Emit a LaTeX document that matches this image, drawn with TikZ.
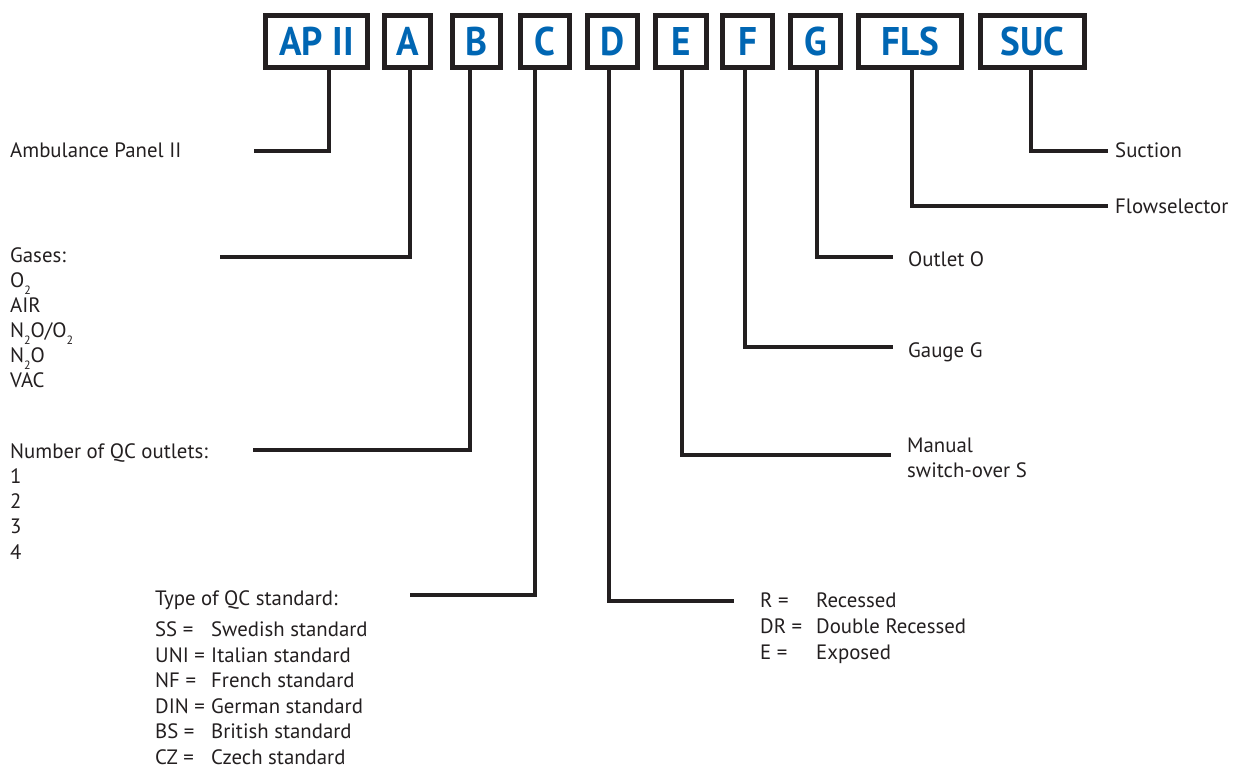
\documentclass[tikz,border=0pt]{standalone}
\usepackage{fontspec}
\setmainfont{PT Sans}
\newfontfamily\boxfont{PT Sans}[FakeStretch=0.93]
\definecolor{ink}{RGB}{35,31,32}
\definecolor{codeblue}{RGB}{0,102,179}
\newcommand{\sub}[1]{\raisebox{-0.7ex}{\fontsize{12}{12}\selectfont #1}}
\begin{document}
\begin{tikzpicture}[x=1pt,y=-1pt,
  codebox/.style={draw=ink, line width=5pt, minimum height=52pt, inner sep=0pt,
    font=\boxfont\bfseries\fontsize{40}{40}\selectfont, text=codeblue},
  conn/.style={draw=ink, line width=4pt},
  txt/.style={anchor=base west, inner sep=0pt, font=\fontsize{20.8}{25}\selectfont, text=ink}]
\useasboundingbox (0,0) rectangle (1242,769);
% code boxes
\node[codebox, minimum width=102pt] (apii) at (316.5,41.5) {AP II};
\node[codebox, minimum width=46pt]  (a)    at (407.5,41.5) {A};
\node[codebox, minimum width=48pt]  (b)    at (476.5,41.5) {B};
\node[codebox, minimum width=49pt]  (c)    at (545,41.5)   {C};
\node[codebox, minimum width=50pt]  (d)    at (612.5,41.5) {D};
\node[codebox, minimum width=51pt]  (e)    at (681,41.5)   {E};
\node[codebox, minimum width=50pt]  (f)    at (747.5,41.5) {F};
\node[codebox, minimum width=50pt]  (g)    at (815.5,41.5) {G};
\node[codebox, minimum width=103pt] (fls)  at (910,41.5)   {FLS};
\node[codebox, minimum width=104pt] (suc)  at (1032.5,41.5) {SUC};
% connector ends
\coordinate (c1) at (254,151);
\coordinate (c2) at (220,257);
\coordinate (c3) at (253,450);
\coordinate (c4) at (410,595);
\coordinate (c5) at (734,601);
\coordinate (c6) at (891,455);
\coordinate (c7) at (893,347);
\coordinate (c8) at (893,257);
\coordinate (c9) at (1108,206);
\coordinate (c10) at (1108,151);
\draw[conn] ([xshift=12.5pt]apii.south) |- (c1);
\draw[conn] ([xshift=2.5pt]a.south) |- (c2);
\draw[conn] ([xshift=-6.5pt]b.south) |- (c3);
\draw[conn] ([xshift=-10pt]c.south) |- (c4);
\draw[conn] ([xshift=-3.5pt]d.south) |- (c5);
\draw[conn] ([xshift=1pt]e.south) |- (c6);
\draw[conn] ([xshift=-2.5pt]f.south) |- (c7);
\draw[conn] ([xshift=1.5pt]g.south) |- (c8);
\draw[conn] ([xshift=2pt]fls.south) |- (c9);
\draw[conn] ([xshift=-2pt]suc.south) |- (c10);
% left texts
\node[txt] (t1) at (10,157) {Ambulance Panel II};
\node[txt] (t2a) at (10,262) {Gases:};
\node[txt] (t2b) at (10,287) {O\sub{2}};
\node[txt] (t2c) at (10,312) {AIR};
\node[txt] (t2d) at (10,337) {N\sub{2}O/O\sub{2}};
\node[txt] (t2e) at (10,362) {N\sub{2}O};
\node[txt] (t2f) at (10,387) {VAC};
\node[txt] (t3a) at (10,458) {Number of QC outlets:};
\node[txt] (t3b) at (10,483) {1};
\node[txt] (t3c) at (10,508) {2};
\node[txt] (t3d) at (10,533) {3};
\node[txt] (t3e) at (10,559) {4};
% QC standard
\node[txt] (t4) at (155,605) {Type of QC standard:};
\node[txt] (s1a) at (155,636) {SS =};
\node[txt] (s1b) at (211,636) {Swedish standard};
\node[txt] (s2a) at (155,662) {UNI =};
\node[txt] (s2b) at (211,662) {Italian standard};
\node[txt] (s3a) at (155,687) {NF =};
\node[txt] (s3b) at (211,687) {French standard};
\node[txt] (s4a) at (155,713) {DIN =};
\node[txt] (s4b) at (211,713) {German standard};
\node[txt] (s5a) at (155,738.5) {BS =};
\node[txt] (s5b) at (211,738.5) {British standard};
\node[txt] (s6a) at (155,764) {CZ =};
\node[txt] (s6b) at (211,764) {Czech standard};
% D options
\node[txt] (r1a) at (760,607) {R =};
\node[txt] (r1b) at (816,607) {Recessed};
\node[txt] (r2a) at (760,633) {DR =};
\node[txt] (r2b) at (816,633) {Double Recessed};
\node[txt] (r3a) at (760,659) {E =};
\node[txt] (r3b) at (816,659) {Exposed};
% right texts
\node[txt] (u1) at (1115,157) {Suction};
\node[txt] (u2) at (1115,213) {Flowselector};
\node[txt] (u3) at (908,266) {Outlet O};
\node[txt] (u4) at (908,357) {Gauge G};
\node[txt] (u5) at (907,452) {Manual};
\node[txt] (u6) at (907,477) {switch-over S};
\end{tikzpicture}
\end{document}
